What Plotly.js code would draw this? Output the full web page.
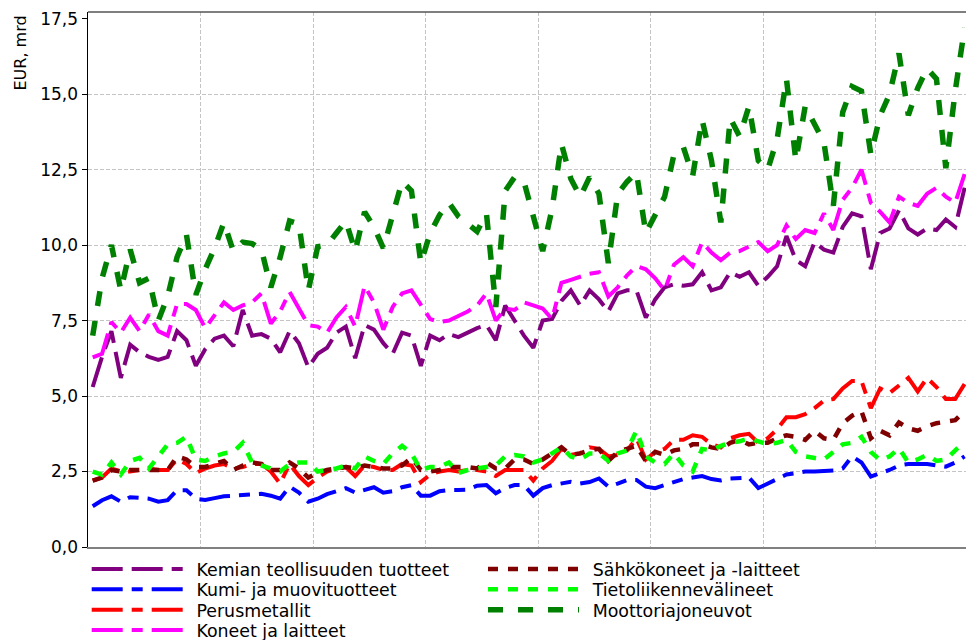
<!DOCTYPE html>
<html>
<head>
<meta charset="utf-8">
<script src="https://cdn.plot.ly/plotly-3.0.1.min.js"></script>
<style>html,body{margin:0;padding:0;background:#fff;}#chart{width:966px;height:640px;}</style>
</head>
<body>
<div id="chart"></div>
<script>
// Series names (legend order)
const seriesNames = [
  "Kemian teollisuuden tuotteet",
  "Kumi- ja muovituotteet",
  "Perusmetallit",
  "Koneet ja laitteet",
  "Sähkökoneet ja -laitteet",
  "Tietoliikennevälineet",
  "Moottoriajoneuvot"
];

// Monthly values, EUR bn (94 months)
const kemian = [5.3, 6.3, 7.15, 5.6, 6.7, 6.45, 6.3, 6.2, 6.3, 7.15,
 6.85, 6.0, 6.55, 6.9, 7.0, 6.65, 7.85, 7.0, 7.05, 6.9,
 6.45, 7.15, 6.75, 5.95, 6.4, 6.6, 7.1, 7.3, 6.25, 7.35,
 7.2, 6.75, 6.4, 7.1, 7.0, 6.0, 7.0, 6.85, 7.05, 6.95,
 7.1, 7.25, 7.35, 6.85, 8.0, 7.5, 7.0, 6.6, 7.5, 7.55,
 8.15, 8.5, 8.0, 8.5, 8.2, 7.8, 8.4, 8.5, 8.5, 7.6,
 8.2, 8.6, 8.7, 8.65, 8.7, 9.1, 8.5, 8.6, 9.1, 8.95,
 9.1, 8.65, 8.95, 9.3, 10.3, 9.5, 9.3, 10.1, 9.85, 9.75,
 10.6, 11.05, 10.95, 9.2, 10.4, 10.55, 11.15, 10.55, 10.35, 10.55,
 10.5, 10.85, 10.6, 11.9];

const kumi = [1.35, 1.55, 1.68, 1.5, 1.65, 1.63, 1.6, 1.5, 1.55, 1.88,
 1.88, 1.6, 1.56, 1.62, 1.68, 1.7, 1.72, 1.75, 1.76, 1.7,
 1.6, 2.0, 1.8, 1.5, 1.6, 1.75, 1.85, 1.95, 1.8, 1.9,
 1.98, 1.8, 1.85, 1.98, 2.05, 1.7, 1.7, 1.85, 1.89, 1.89,
 1.9, 2.03, 2.05, 1.78, 1.95, 2.05, 2.05, 1.7, 1.95, 2.05,
 2.1, 2.16, 2.1, 2.15, 2.27, 2.0, 2.1, 2.22, 2.22, 2.0,
 1.95, 2.05, 2.15, 2.25, 2.3, 2.35, 2.25, 2.2, 2.27, 2.3,
 2.3, 1.95, 2.1, 2.27, 2.4, 2.45, 2.5, 2.5, 2.52, 2.53,
 2.6, 3.0, 2.8, 2.33, 2.45, 2.55, 2.7, 2.75, 2.75, 2.75,
 2.7, 2.66, 2.8, 3.0];

const perus = [2.2, 2.3, 2.6, 2.5, 2.5, 2.55, 2.6, 2.55, 2.55, 2.9,
 2.75, 2.45, 2.6, 2.7, 2.75, 2.6, 2.65, 2.75, 2.75, 2.5,
 2.1, 2.75, 2.35, 2.05, 2.3, 2.5, 2.6, 2.65, 2.35, 2.7,
 2.65, 2.55, 2.55, 2.75, 2.7, 2.15, 2.4, 2.5, 2.55, 2.5,
 2.55, 2.55, 2.5, 2.35, 2.55, 2.55, 2.55, 2.2, 2.6, 2.85,
 3.25, 3.05, 3.1, 3.3, 3.25, 3.0, 3.05, 3.2, 3.6, 2.9,
 3.15, 3.25, 3.55, 3.55, 3.7, 3.65, 3.4, 3.3, 3.6, 3.7,
 3.75, 3.45, 3.6, 3.9, 4.3, 4.3, 4.4, 4.6, 4.85, 4.9,
 5.25, 5.5, 5.5, 4.6, 5.25, 5.1, 5.35, 5.6, 5.15, 5.6,
 5.3, 4.9, 4.9, 5.4];

const koneet = [6.28, 6.4, 7.45, 7.1, 7.6, 7.15, 7.7, 7.15, 7.0, 8.05,
 8.05, 7.85, 7.25, 7.7, 8.1, 7.85, 8.0, 8.1, 8.4, 7.4,
 7.8, 8.45, 7.9, 7.35, 7.3, 7.1, 7.6, 7.95, 7.3, 8.65,
 8.1, 7.2, 7.95, 8.4, 8.5, 8.0, 7.55, 7.45, 7.5, 7.65,
 7.8, 8.0, 8.4, 7.5, 7.9, 7.85, 8.1, 8.0, 7.9, 7.55,
 8.75, 8.85, 8.95, 9.05, 9.1, 8.3, 8.6, 9.0, 9.3, 9.2,
 8.9, 8.5, 9.35, 9.6, 9.3, 10.1, 9.75, 9.5, 9.75, 9.8,
 9.95, 10.1, 9.8, 10.0, 10.65, 10.2, 10.5, 10.4, 11.05, 10.5,
 11.5, 11.9, 12.5, 11.4, 11.1, 10.75, 11.6, 11.4, 11.3, 11.7,
 11.9, 11.6, 11.4, 12.35];

const sahko = [2.2, 2.3, 2.55, 2.5, 2.55, 2.55, 2.55, 2.55, 2.55, 3.0,
 2.9, 2.65, 2.65, 2.75, 2.85, 2.55, 2.7, 2.8, 2.75, 2.55,
 2.55, 2.8, 2.6, 2.3, 2.45, 2.55, 2.6, 2.65, 2.6, 2.7,
 2.65, 2.6, 2.6, 2.7, 2.95, 2.55, 2.5, 2.55, 2.65, 2.65,
 2.65, 2.6, 2.8, 2.6, 2.6, 2.9, 2.9, 2.75, 2.9, 3.1,
 3.3, 3.05, 3.1, 3.2, 3.25, 2.85, 3.15, 3.25, 3.35, 2.85,
 3.15, 3.05, 3.2, 3.25, 3.4, 3.4, 3.3, 3.25, 3.45, 3.55,
 3.4, 3.45, 3.45, 3.6, 3.7, 3.65, 3.55, 3.85, 3.6, 3.55,
 4.1, 4.35, 4.5, 3.6, 3.85, 3.7, 4.12, 3.93, 3.85, 4.0,
 4.1, 4.15, 4.2, 4.5];

const tieto = [2.5, 2.4, 2.8, 2.4, 2.85, 2.95, 2.6, 3.0, 3.4, 3.45,
 3.65, 2.9, 2.85, 3.0, 3.1, 3.15, 3.45, 2.8, 2.7, 2.6,
 2.5, 2.75, 2.8, 2.8, 2.5, 2.55, 2.6, 2.7, 2.6, 3.0,
 2.85, 2.75, 3.1, 3.35, 3.1, 2.55, 2.65, 2.65, 2.8, 2.45,
 2.55, 2.6, 2.65, 2.7, 3.0, 3.05, 3.0, 2.8, 2.9, 3.1,
 3.3, 3.0, 2.9, 3.1, 3.1, 2.85, 3.1, 3.2, 3.85, 3.0,
 2.8, 2.75, 3.1, 2.7, 2.5, 3.25, 3.2, 3.35, 3.45, 3.5,
 3.6, 3.5, 3.4, 3.45, 3.55, 3.15, 3.0, 2.95, 2.9, 3.15,
 3.4, 3.45, 3.65, 3.15, 2.88, 3.0, 3.27, 2.8, 2.9, 3.05,
 2.85, 2.9, 3.2, 3.5];

const moottori = [7.0, 8.9, 10.0, 8.5, 9.85, 8.75, 8.9, 7.5, 8.3, 9.6,
 10.35, 8.35, 9.2, 9.9, 10.75, 9.8, 10.1, 10.05, 9.85, 8.6,
 9.6, 10.8, 10.7, 8.5, 9.95, 10.0, 10.4, 10.8, 9.8, 11.1,
 10.6, 9.9, 11.0, 12.1, 11.8, 9.4, 10.4, 11.0, 11.4, 10.95,
 10.7, 10.45, 11.05, 7.95, 11.8, 12.25, 12.1, 10.95, 9.8, 11.2,
 13.35, 12.2, 11.6, 12.25, 11.7, 9.4, 11.7, 12.1, 12.4, 10.4,
 11.0, 11.6, 13.0, 13.25, 12.3, 14.15, 12.8, 10.75, 14.2, 13.6,
 14.6, 12.8, 12.5, 13.5, 15.5, 12.8, 14.6, 14.0, 13.4, 11.3,
 14.4, 15.25, 15.1, 13.0, 14.3, 15.0, 16.35, 14.3, 15.2, 15.85,
 15.5, 12.55, 15.1, 17.2];

// Month positions along the axis (category index)
const months = Array.from({length: kemian.length}, (_, i) => i);
const yTickVals = [0, 2.5, 5, 7.5, 10, 12.5, 15, 17.5];
const yGridVals = [2.5, 5, 7.5, 10, 12.5, 15];

const seriesValues = [kemian, kumi, perus, koneet, sahko, tieto, moottori];
const colors = ["#800080", "#0000ff", "#ff0000", "#ff00ff", "#800000", "#00ff00", "#008000"];
const dashes = ["31px,9px", "31px,9px,11px,9px", "31px,9px,11px,9px", "31px,9px,11px,9px", "10px,10px", "10px,10px", "15px,15px"];
const widths = [4, 4, 4, 4, 4.5, 4.5, 5.5];
const legendIds = ["legend", "legend2", "legend3", "legend4", "legend5", "legend6", "legend7"];
const yRefs = ["y", "y", "y", "y", "y", "y", "y2"];

const traces = seriesValues.map((vals, k) => ({
  type: "scatter",
  mode: "lines",
  name: "\u2002" + seriesNames[k],
  x: months,
  y: vals,
  yaxis: yRefs[k],
  legend: legendIds[k],
  line: {color: colors[k], width: widths[k], dash: dashes[k]},
  hoverinfo: "skip"
}));

const FONT = "DejaVu Sans";
// plot area: x 88..966, y 12..547
const PX = (px) => (px - 88) / 878;
const PY = (py) => (547 - py) / 535;
const legendPos = [
  [86.7, 569.3], [86.7, 589.5], [86.7, 610], [86.7, 630.3],
  [483, 569.3], [483, 589.5], [483, 610]
];
const Y_RANGE = [0, 17.72];

const layout = {
  width: 966,
  height: 640,
  margin: {l: 88, r: 0, t: 12, b: 93, pad: 0, autoexpand: false},
  paper_bgcolor: "#ffffff",
  plot_bgcolor: "#ffffff",
  separators: ", ",
  font: {family: FONT, size: 17, color: "#000"},
  showlegend: true,
  xaxis: {
    range: [-0.5, 93.15],
    tickmode: "linear", tick0: -0.5, dtick: 12,
    showgrid: true, gridcolor: "#c4c4c4", gridwidth: 1, griddash: "4px,2px",
    showticklabels: false, ticks: "",
    zeroline: false, showline: true, linecolor: "#808080", linewidth: 2,
    fixedrange: true
  },
  yaxis: {
    range: Y_RANGE,
    tickmode: "array", tickvals: yTickVals,
    tickformat: ".1f",
    showgrid: false, zeroline: false,
    showline: true, linecolor: "#000", linewidth: 1.5,
    ticks: "outside", ticklen: 5, tickcolor: "#000", tickwidth: 1,
    tickfont: {family: FONT, size: 17, color: "#000"},
    fixedrange: true
  },
  yaxis2: {
    overlaying: "y", anchor: "x", side: "left",
    range: Y_RANGE,
    tickmode: "array", tickvals: yGridVals,
    showgrid: true, gridcolor: "#c4c4c4", gridwidth: 1, griddash: "4px,2px",
    showticklabels: false, ticks: "", zeroline: false, showline: false,
    fixedrange: true
  },
  shapes: [{
    type: "line", xref: "paper", yref: "paper",
    x0: 0, x1: 1, y0: 1, y1: 1,
    line: {color: "#555555", width: 1.5}
  }],
  annotations: [{
    text: "EUR, mrd", textangle: -90,
    xref: "paper", yref: "paper",
    x: PX(20), y: PY(53.5),
    xanchor: "center", yanchor: "middle",
    showarrow: false,
    font: {family: FONT, size: 16, color: "#000"}
  }]
};

legendIds.forEach((id, k) => {
  layout[id] = {
    x: PX(legendPos[k][0]), y: PY(legendPos[k][1]),
    xref: "paper", yref: "paper",
    xanchor: "left", yanchor: "middle",
    orientation: "v",
    bgcolor: "rgba(0,0,0,0)", borderwidth: 0,
    itemwidth: 91,
    font: {family: FONT, size: 17.4, color: "#000"},
    itemclick: false, itemdoubleclick: false
  };
});

Plotly.newPlot("chart", traces, layout, {displayModeBar: false, staticPlot: true});
</script>
</body>
</html>
